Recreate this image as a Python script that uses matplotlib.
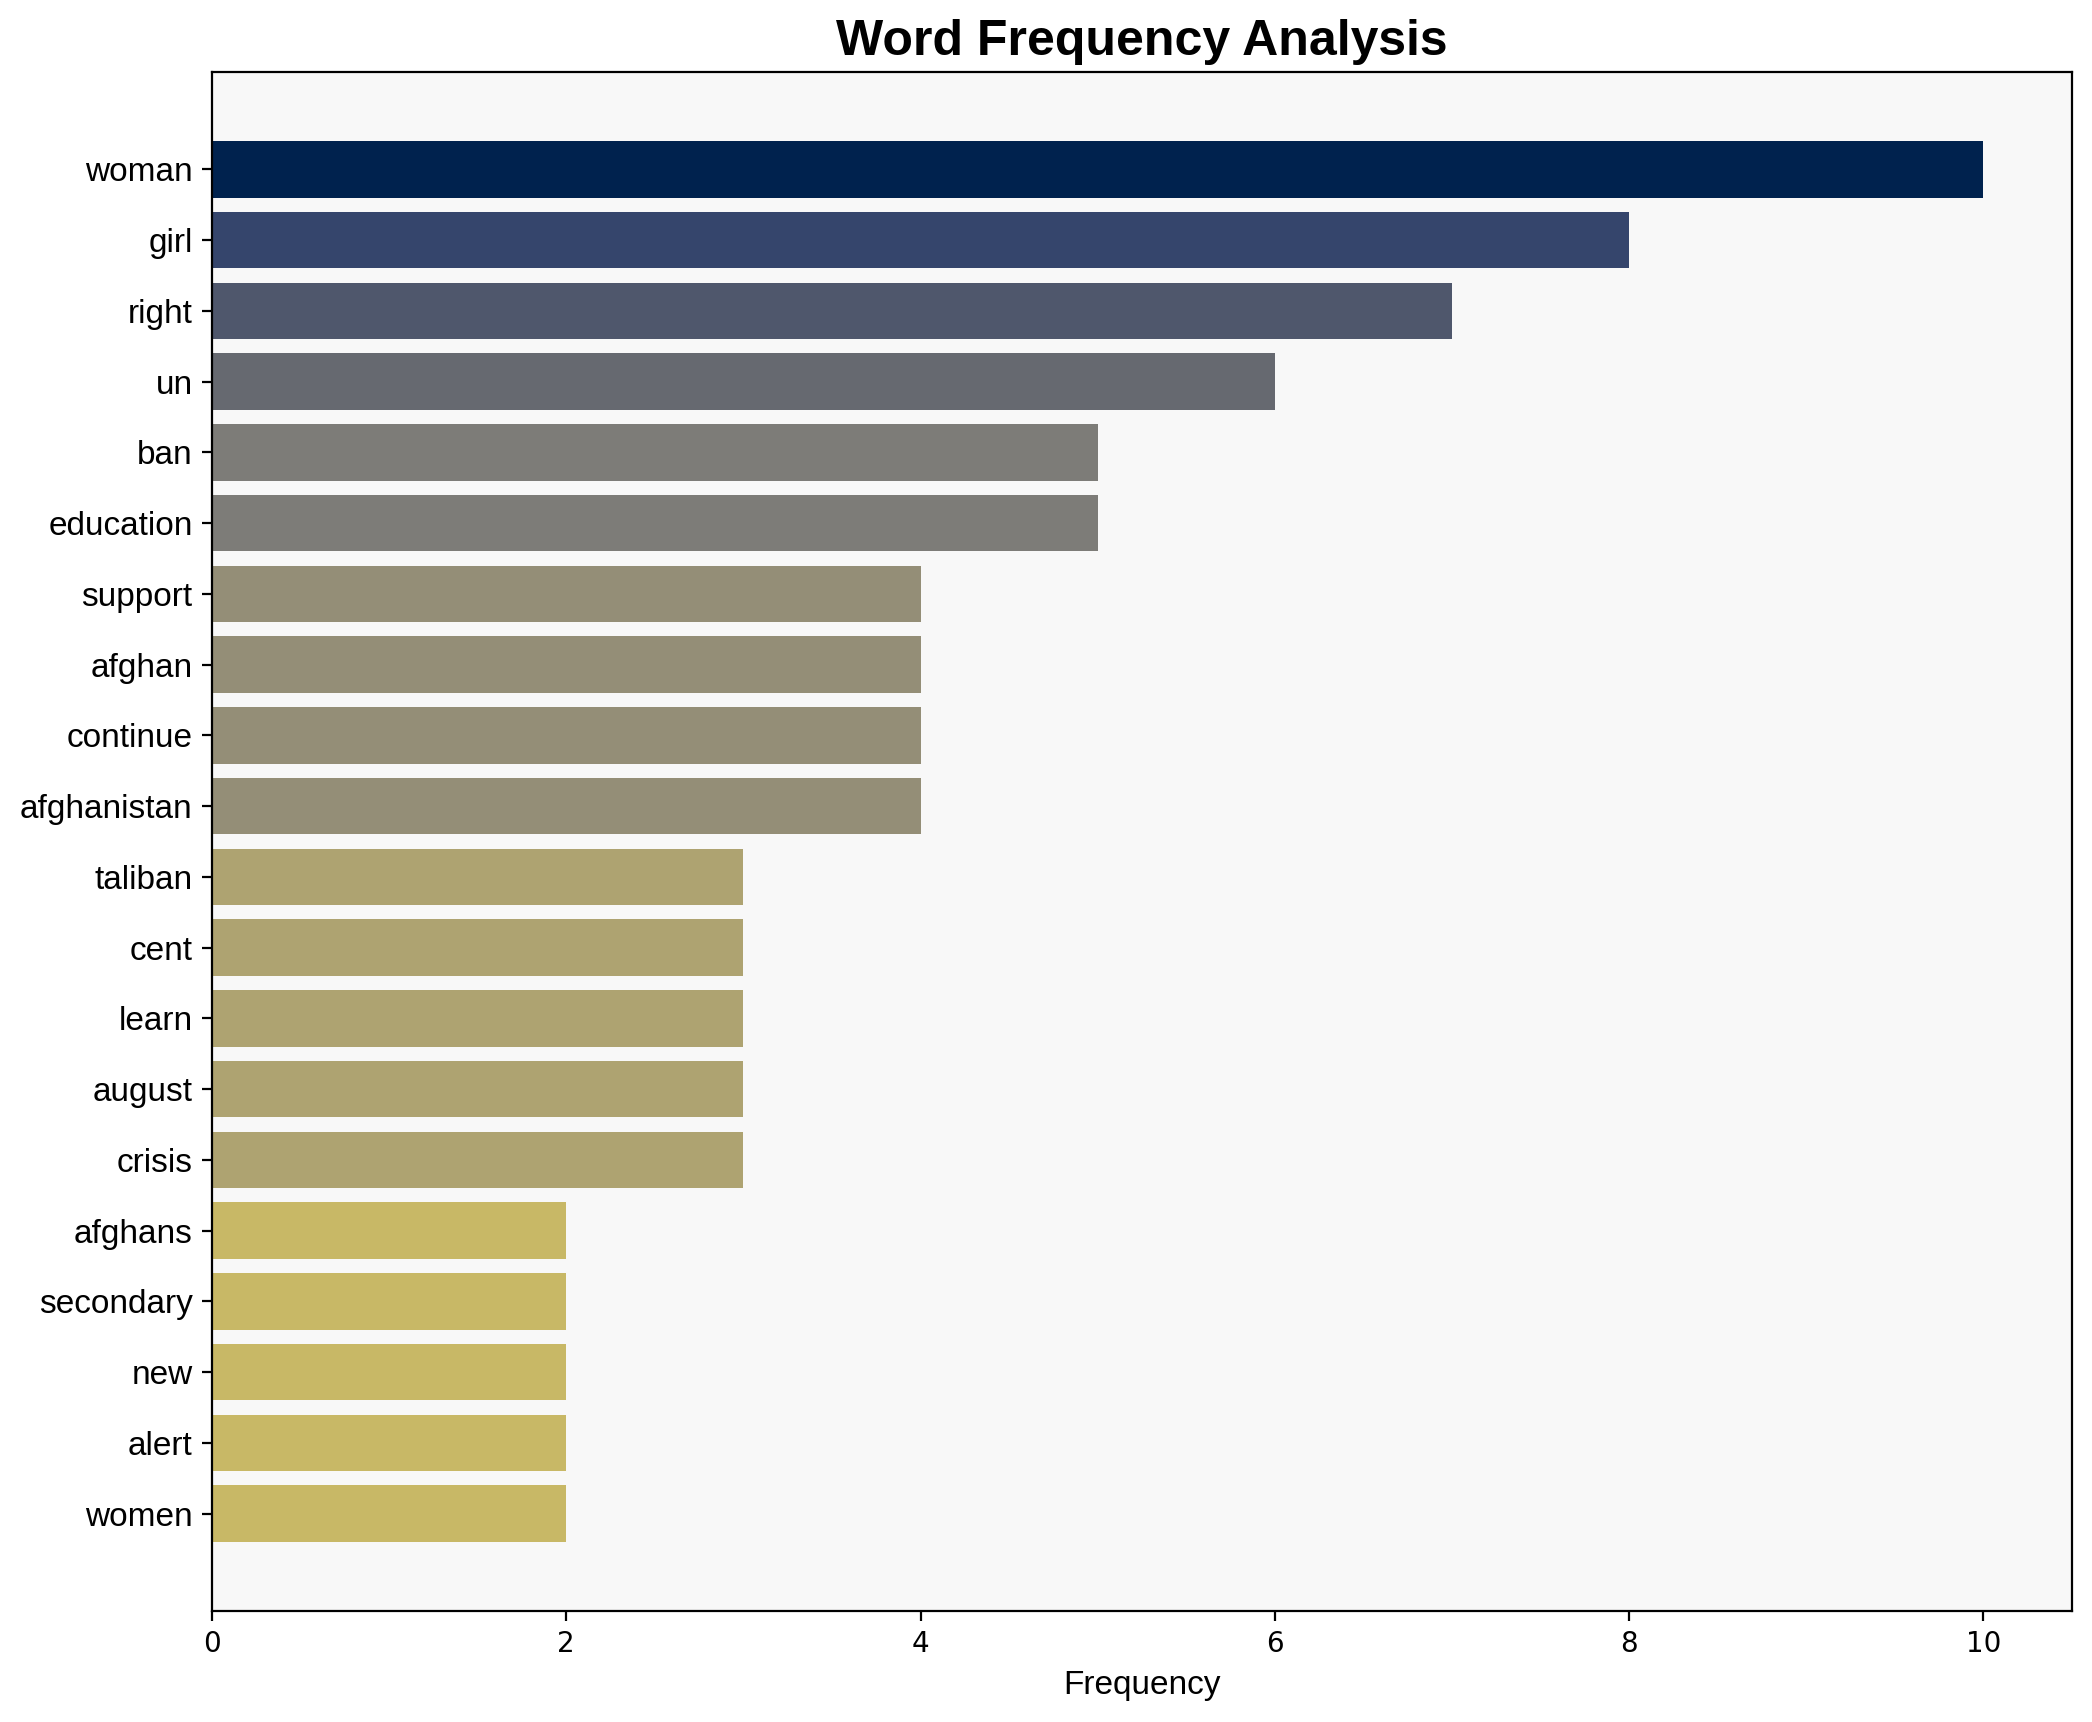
import matplotlib
matplotlib.use("Agg")
import matplotlib.pyplot as plt
import numpy as np

plt.rcParams['font.family'] = ['Liberation Sans', 'DejaVu Sans']

words = ["woman", "girl", "right", "un", "ban", "education", "support", "afghan",
         "continue", "afghanistan", "taliban", "cent", "learn", "august", "crisis",
         "afghans", "secondary", "new", "alert", "women"]
freqs = [10, 8, 7, 6, 5, 5, 4, 4, 4, 4, 3, 3, 3, 3, 3, 2, 2, 2, 2, 2]

fig = plt.figure(figsize=(10.46, 8.61), dpi=200)
ax = fig.add_axes([212/2092, 1 - 1611/1722, (2072-212)/2092, (1611-72)/1722])
ax.set_facecolor('#f8f8f8')

f = np.array(freqs, dtype=float)
colors = plt.cm.cividis(1 - f / f.max())
y = np.arange(len(words))
ax.barh(y, f, height=0.8, color=colors)
ax.set_yticks(y)
ax.set_yticklabels(words, fontsize=12)
ax.set_ylim(len(words) - 1 + 1.375, -1.375)
ax.tick_params(axis='x', labelsize=10)
for lbl in ax.get_xticklabels():
    lbl.set_fontfamily('DejaVu Sans')
ax.set_xlabel("Frequency", fontsize=12)
ax.set_title("Word Frequency Analysis", fontsize=18, fontweight='bold')

fig.savefig("out.png", dpi=200)
